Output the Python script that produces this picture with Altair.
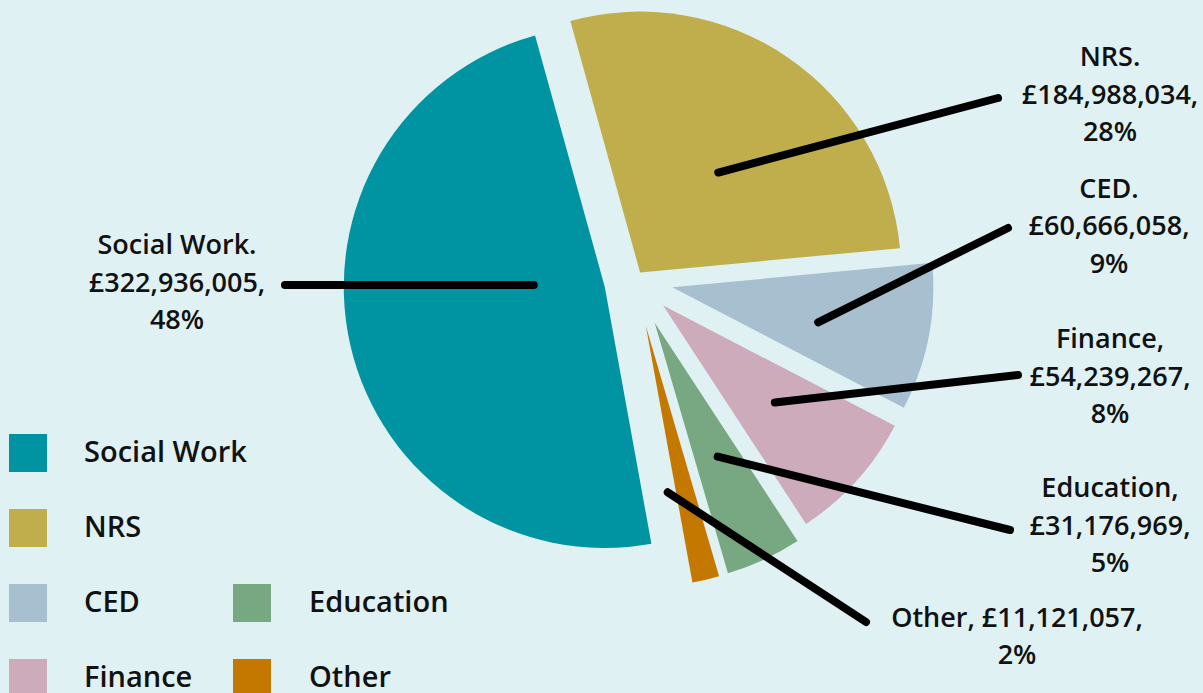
import altair as alt
import pandas as pd

# ---- data ----
categories = ["Social Work", "NRS", "CED", "Finance", "Education", "Other"]
values = [322936005, 184988034, 60666058, 54239267, 31176969, 11121057]
pct_labels = ["48%", "28%", "9%", "8%", "5%", "2%"]
name_sep = [".", ".", ".", ",", ",", ","]
colors = ["#0093a1", "#bfae4b", "#a7bfcf", "#cdabbb", "#78a881", "#c57800"]

# ---- layout / style ----
angle_order = [5, 0, 1, 2, 3, 4]          # clockwise drawing order (NRS first)
explode = [31, 9, 38, 38, 47, 47]          # radial offset of each slice
leader_ang = [271.6, 38, 103.5, 131, 154.8, 172.5]  # direction of leader start from slice apex (deg)
leader_r = [71, 127, 150, 148, 148, 168]   # distance of leader start from slice apex
leader_end_x = [285, 998, 1008, 1018, 1010, 866]
leader_end_y = [285, 98, 228, 375, 530, 622]
label_x = [177, 1110, 1109, 1110, 1110, 1017]
label_y = [246, 58, 189.5, 340, 489, 618.5]
legend_col = [0, 0, 0, 0, 1, 1]
legend_row = [0, 1, 2, 3, 2, 3]

CX, CY, R = 635, 280, 261
START_DEG = -15.5
FONT = "Open Sans"
BG = "#dff1f3"

labels = []
for c, v, p, s in zip(categories, values, pct_labels, name_sep):
    money = "£{:,}".format(v)
    if c == "Other":
        labels.append(f"{c}{s} {money},\n{p}")
    else:
        labels.append(f"{c}{s}\n{money},\n{p}")

df = pd.DataFrame({
    "category": categories,
    "value": values,
    "ord": angle_order,
    "explode": explode,
    "la": leader_ang,
    "lr": leader_r,
    "ex": leader_end_x,
    "ey": leader_end_y,
    "lx": label_x,
    "ly": label_y,
    "label": labels,
    "lcol": legend_col,
    "lrow": legend_row,
})

color = alt.Color("category:N", scale=alt.Scale(domain=categories, range=colors), legend=None)

base = (
    alt.Chart(df)
    .transform_joinaggregate(total="sum(value)")
    .transform_window(cum="sum(value)", sort=[alt.SortField("ord")], frame=[None, 0])
    .transform_calculate(
        t1=f"{START_DEG}*PI/180 + 2*PI*datum.cum/datum.total",
    )
    .transform_calculate(t0="datum.t1 - 2*PI*datum.value/datum.total")
    .transform_calculate(mid="(datum.t0 + datum.t1)/2")
    .transform_calculate(
        cx=f"{CX} + datum.explode*sin(datum.mid)",
        cy=f"{CY} - datum.explode*cos(datum.mid)",
    )
    .transform_calculate(
        sx="datum.cx + datum.lr*sin(datum.la*PI/180)",
        sy="datum.cy - datum.lr*cos(datum.la*PI/180)",
    )
)

arcs = base.mark_arc(radius=R, stroke=None).encode(
    x=alt.X("cx:Q", scale=None),
    y=alt.Y("cy:Q", scale=None),
    theta=alt.Theta("t0:Q", scale=None),
    theta2="t1:Q",
    color=color,
)

leaders = base.mark_rule(color="#000000", strokeWidth=8, strokeCap="round").encode(
    x=alt.X("sx:Q", scale=None),
    y=alt.Y("sy:Q", scale=None),
    x2="ex:Q",
    y2="ey:Q",
)

texts = base.mark_text(
    font=FONT, fontSize=27, fontWeight=600, color="#111111",
    align="center", baseline="middle", lineBreak="\n", lineHeight=37.5,
).encode(
    x=alt.X("lx:Q", scale=None),
    y=alt.Y("ly:Q", scale=None),
    text="label:N",
)

leg = alt.Chart(df).transform_calculate(
    qx="28 + datum.lcol*224",
    qy="453 + datum.lrow*75",
    tx="84 + datum.lcol*225",
)

leg_sq = leg.mark_square(size=38 * 38, opacity=1).encode(
    x=alt.X("qx:Q", scale=None),
    y=alt.Y("qy:Q", scale=None),
    color=color,
)

leg_tx = leg.mark_text(
    font=FONT, fontSize=29, fontWeight=600, color="#111111",
    align="left", baseline="middle",
).encode(
    x=alt.X("tx:Q", scale=None),
    y=alt.Y("qy:Q", scale=None),
    text="category:N",
)

chart = (
    alt.layer(arcs, leaders, texts, leg_sq, leg_tx)
    .properties(width=1203, height=693, background=BG, padding=0,
                autosize=alt.AutoSizeParams(type="none"))
    .configure_view(stroke=None)
)

chart.save("out.html", embed_options={"renderer": "svg", "actions": False})
